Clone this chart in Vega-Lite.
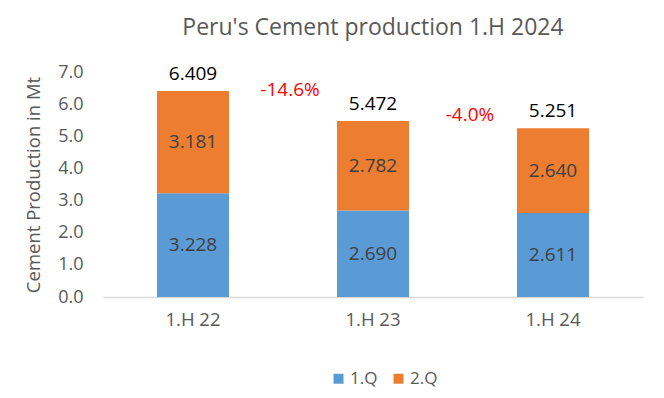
{
  "$schema": "https://vega.github.io/schema/vega-lite/v6.json",
  "autosize": {"type": "none"},
  "width": 540,
  "height": 225,
  "padding": {"left": 103, "top": 72, "right": 21, "bottom": 101},
  "background": "white",
  "title": {"text": "Peru's Cement production 1.H 2024", "fontSize": 23, "font": "Open Sans", "fontWeight": "normal", "color": "#595959", "anchor": "middle", "offset": 23},
  "config": {
    "view": {"stroke": null},
    "axisX": {"title": null, "labelAngle": 0, "labelFont": "Open Sans", "labelFontSize": 18.5, "labelColor": "#595959", "ticks": false, "domainColor": "#D9D9D9", "domainWidth": 1.5, "labelPadding": 13, "grid": false},
    "axisY": {"titleFont": "Open Sans", "titleFontSize": 18.5, "titleFontWeight": "normal", "titleColor": "#595959", "titlePadding": 14, "labelFont": "Open Sans", "labelFontSize": 18, "labelColor": "#595959", "grid": false, "domain": false, "ticks": false, "labelPadding": 20, "labelOverlap": false, "labelBound": false},
    "legend": {"labelFont": "Open Sans", "labelFontSize": 17, "labelColor": "#595959"}
  },
  "datasets": {
    "parts": [
      {"half": "1.H 22", "quarter": "1.Q", "value": 3.228},
      {"half": "1.H 22", "quarter": "2.Q", "value": 3.181},
      {"half": "1.H 23", "quarter": "1.Q", "value": 2.690},
      {"half": "1.H 23", "quarter": "2.Q", "value": 2.782},
      {"half": "1.H 24", "quarter": "1.Q", "value": 2.611},
      {"half": "1.H 24", "quarter": "2.Q", "value": 2.640}
    ],
    "totals": [
      {"half": "1.H 22", "total": 6.409},
      {"half": "1.H 23", "total": 5.472},
      {"half": "1.H 24", "total": 5.251}
    ],
    "changes": [
      {"half": "1.H 22", "label": "-14.6%", "pos": 6.45},
      {"half": "1.H 23", "label": "-4.0%", "pos": 5.67}
    ]
  },
  "encoding": {
    "x": {"field": "half", "type": "nominal", "sort": null,
      "scale": {"paddingInner": 0.6, "paddingOuter": 0.3},
      "axis": {"title": null}}
  },
  "layer": [
    {
      "data": {"name": "parts"},
      "mark": {"type": "bar"},
      "encoding": {
        "y": {"field": "value", "type": "quantitative", "stack": "zero",
          "scale": {"domain": [0, 7]},
          "axis": {"title": "Cement Production  in Mt", "values": [0,1,2,3,4,5,6,7], "format": ".1f"}},
        "order": {"field": "quarter", "sort": "ascending"},
        "color": {"field": "quarter", "type": "nominal",
          "scale": {"domain": ["1.Q", "2.Q"], "range": ["#5B9BD5", "#ED7D31"]},
          "legend": {"title": null, "orient": "none", "legendX": 227, "legendY": 298, "direction": "horizontal", "symbolType": "square", "symbolSize": 100, "columnPadding": 12, "labelOffset": 3, "symbolStrokeWidth": 0}}
      }
    },
    {
      "data": {"name": "parts"},
      "mark": {"type": "text", "font": "Open Sans", "fontSize": 19, "color": "#404040", "baseline": "middle"},
      "encoding": {
        "y": {"field": "value", "type": "quantitative", "stack": "zero", "bandPosition": 0.5,
          "axis": {"title": "Cement Production  in Mt", "values": [0,1,2,3,4,5,6,7], "format": ".1f"}},
        "order": {"field": "quarter", "sort": "ascending"},
        "detail": {"field": "quarter"},
        "text": {"field": "value", "type": "quantitative", "format": ".3f"}
      }
    },
    {
      "data": {"name": "totals"},
      "mark": {"type": "text", "font": "Open Sans", "fontSize": 19, "color": "#000000", "baseline": "alphabetic", "dy": -11},
      "encoding": {
        "y": {"field": "total", "type": "quantitative",
          "axis": {"title": "Cement Production  in Mt", "values": [0,1,2,3,4,5,6,7], "format": ".1f"}},
        "text": {"field": "total", "type": "quantitative", "format": ".3f"}
      }
    },
    {
      "data": {"name": "changes"},
      "mark": {"type": "text", "font": "Open Sans", "fontSize": 19, "color": "#FF0000", "baseline": "middle", "dx": 97},
      "encoding": {
        "y": {"field": "pos", "type": "quantitative",
          "axis": {"title": "Cement Production  in Mt", "values": [0,1,2,3,4,5,6,7], "format": ".1f"}},
        "text": {"field": "label"}
      }
    }
  ]
}
